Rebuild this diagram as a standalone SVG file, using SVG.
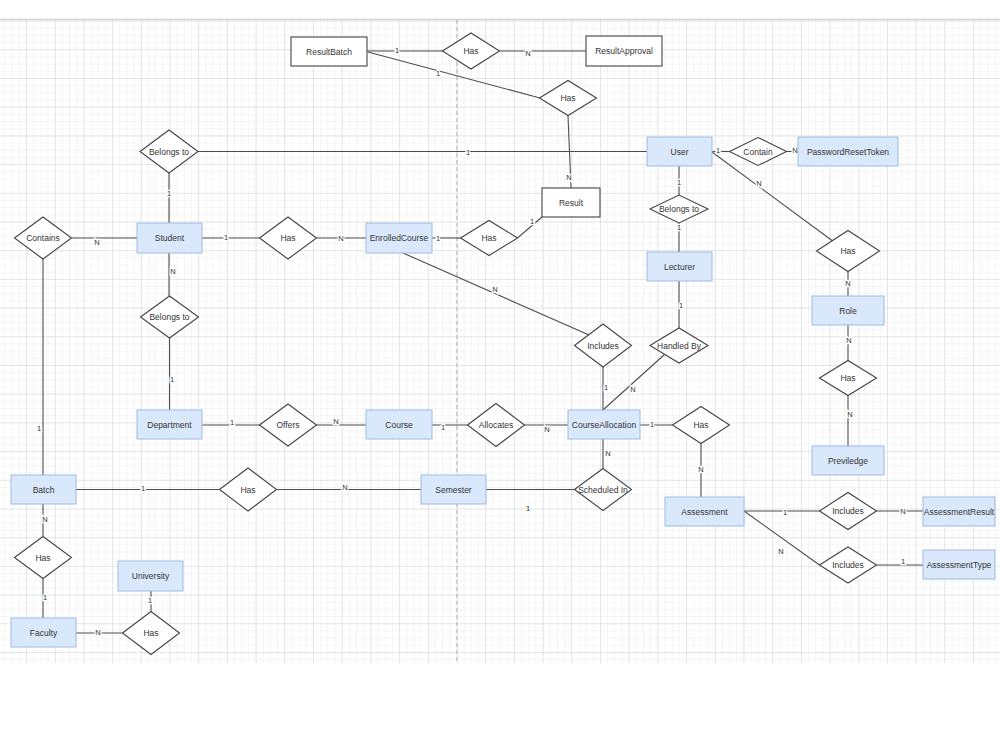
<svg xmlns="http://www.w3.org/2000/svg" width="1000" height="750" viewBox="0 0 1000 750">
<defs>
<pattern id="minor" x="26" y="20.6" width="7.175" height="7.175" patternUnits="userSpaceOnUse">
<path d="M0 0V7.175M0 0H7.175" fill="none" stroke="#ebebeb" stroke-width="1"/>
</pattern>
<pattern id="major" x="26" y="20.6" width="28.7" height="28.7" patternUnits="userSpaceOnUse">
<path d="M0 0V28.7M0 0H28.7" fill="none" stroke="#d6d6d6" stroke-width="1"/>
</pattern>
<style>
.ent{fill:#dae8fc;stroke:#9fbbe3;stroke-width:1}
.wht{fill:#fff;stroke:#444;stroke-width:1.1}
.rel{fill:#fff;stroke:#444;stroke-width:1.1}
.t{font-family:"Liberation Sans",Arial,sans-serif;font-size:8.5px;fill:#333;text-anchor:middle;dominant-baseline:central}
.c{fill:none;stroke:#4d4d4d;stroke-width:1.1}
.lb{font-family:"Liberation Sans",Arial,sans-serif;font-size:7.5px;fill:#333;text-anchor:middle;dominant-baseline:central;paint-order:stroke;stroke:#fff;stroke-width:2.5}
.lf{font-family:"Liberation Sans",Arial,sans-serif;font-size:7.5px;fill:#333;text-anchor:middle;dominant-baseline:central}
</style>
</defs>
<rect x="0" y="0" width="1000" height="750" fill="#fff"/>
<g id="grid">
<rect x="0" y="20" width="1000" height="643" fill="url(#minor)"/>
<rect x="0" y="20" width="1000" height="643" fill="url(#major)"/>
<line x1="0" y1="19.5" x2="1000" y2="19.5" stroke="#d4d4d4" stroke-width="1.5"/>
<line x1="457" y1="20" x2="457" y2="663" stroke="#b0b0b0" stroke-width="1" stroke-dasharray="4,3"/>
</g>
<g id="connectors">
<path class="c" d="M367 51H443"/>
<path class="c" d="M500 51H586"/>
<path class="c" d="M368 52L540 98"/>
<path class="c" d="M568 115.5L571 188"/>
<path class="c" d="M198 151.5H647"/>
<path class="c" d="M712 151.5H730"/>
<path class="c" d="M786.5 151.5H798"/>
<path class="c" d="M679 166V195"/>
<path class="c" d="M679 223V252"/>
<path class="c" d="M712 152L832 240.5"/>
<path class="c" d="M848 271.5V296"/>
<path class="c" d="M848 325V360.5"/>
<path class="c" d="M848 395.5V446"/>
<path class="c" d="M679 281V328"/>
<path class="c" d="M664.5 354.5L603 410"/>
<path class="c" d="M403 253L589 335"/>
<path class="c" d="M603 367V410"/>
<path class="c" d="M71.5 238H137"/>
<path class="c" d="M202 238H259.5"/>
<path class="c" d="M316.5 238H366"/>
<path class="c" d="M432 238H460.5"/>
<path class="c" d="M517.5 238L542 217"/>
<path class="c" d="M169 173V223"/>
<path class="c" d="M169 253V296"/>
<path class="c" d="M169.5 338V410"/>
<path class="c" d="M202 425H259.5"/>
<path class="c" d="M316.5 425H366"/>
<path class="c" d="M432 425H467.5"/>
<path class="c" d="M524.5 425H568"/>
<path class="c" d="M640 425H672.5"/>
<path class="c" d="M701 443.5V497"/>
<path class="c" d="M603 439V468.5"/>
<path class="c" d="M486 489.5H574.5"/>
<path class="c" d="M43 259V475"/>
<path class="c" d="M76 489.5H219.5"/>
<path class="c" d="M276.5 489.5H421"/>
<path class="c" d="M43 504V536.5"/>
<path class="c" d="M43 578.5V618"/>
<path class="c" d="M76 633H122.5"/>
<path class="c" d="M151 611.5V591"/>
<path class="c" d="M744 511H819.5"/>
<path class="c" d="M876.5 511H923"/>
<path class="c" d="M744 511L819.5 565"/>
<path class="c" d="M876.5 565H923"/>
<text class="lb" x="397" y="50">1</text>
<text class="lb" x="528" y="53">N</text>
<text class="lb" x="438" y="73">1</text>
<text class="lb" x="569" y="177">N</text>
<text class="lb" x="468" y="152">1</text>
<text class="lb" x="718" y="150">1</text>
<text class="lb" x="795" y="150">N</text>
<text class="lb" x="679" y="182">1</text>
<text class="lb" x="679" y="227">1</text>
<text class="lb" x="759" y="183">N</text>
<text class="lb" x="848" y="283">N</text>
<text class="lb" x="849" y="340">N</text>
<text class="lb" x="850" y="414">N</text>
<text class="lb" x="681" y="305">1</text>
<text class="lb" x="633" y="389">N</text>
<text class="lb" x="495" y="289">N</text>
<text class="lb" x="606" y="387">1</text>
<text class="lb" x="97" y="242">N</text>
<text class="lb" x="226" y="237">1</text>
<text class="lb" x="341" y="238">N</text>
<text class="lb" x="438" y="238">1</text>
<text class="lb" x="532" y="221">1</text>
<text class="lb" x="169" y="193">1</text>
<text class="lb" x="173" y="271">N</text>
<text class="lb" x="172" y="379">1</text>
<text class="lb" x="232" y="422">1</text>
<text class="lb" x="336" y="421">N</text>
<text class="lb" x="443" y="427">1</text>
<text class="lb" x="547" y="429">N</text>
<text class="lb" x="652" y="424">1</text>
<text class="lb" x="701" y="469">N</text>
<text class="lb" x="608" y="453">N</text>
<text class="lf" x="528" y="508">1</text>
<text class="lb" x="39" y="428">1</text>
<text class="lb" x="143" y="488">1</text>
<text class="lb" x="345" y="487">N</text>
<text class="lb" x="45" y="519">N</text>
<text class="lb" x="45" y="597">1</text>
<text class="lb" x="98" y="632">N</text>
<text class="lb" x="150" y="600">1</text>
<text class="lb" x="785" y="512">1</text>
<text class="lb" x="903" y="511">N</text>
<text class="lf" x="781" y="551">N</text>
<text class="lb" x="903" y="561">1</text>
</g>
<g id="ResultBatch"><rect class="wht" x="291" y="37" width="76" height="29"/><text class="t" x="329" y="51.5">ResultBatch</text></g>
<g id="ResultApproval"><rect class="wht" x="586" y="36" width="76" height="30"/><text class="t" x="624" y="51">ResultApproval</text></g>
<g id="Result"><rect class="wht" x="542" y="188" width="58" height="29"/><text class="t" x="571" y="202.5">Result</text></g>
<g id="User"><rect class="ent" x="647" y="137" width="65" height="29"/><text class="t" x="679.5" y="151.5">User</text></g>
<g id="PasswordResetToken"><rect class="ent" x="798" y="137" width="100" height="29"/><text class="t" x="848" y="151.5">PasswordResetToken</text></g>
<g id="Lecturer"><rect class="ent" x="647" y="252" width="65" height="29"/><text class="t" x="679.5" y="266.5">Lecturer</text></g>
<g id="Role"><rect class="ent" x="812" y="296" width="72" height="29"/><text class="t" x="848" y="310.5">Role</text></g>
<g id="Previledge"><rect class="ent" x="812" y="446" width="72" height="29"/><text class="t" x="848" y="460.5">Previledge</text></g>
<g id="Student"><rect class="ent" x="137" y="223" width="65" height="30"/><text class="t" x="169.5" y="238">Student</text></g>
<g id="EnrolledCourse"><rect class="ent" x="366" y="223" width="66" height="30"/><text class="t" x="399" y="238">EnrolledCourse</text></g>
<g id="Department"><rect class="ent" x="137" y="410" width="65" height="29"/><text class="t" x="169.5" y="424.5">Department</text></g>
<g id="Course"><rect class="ent" x="366" y="410" width="66" height="29"/><text class="t" x="399" y="424.5">Course</text></g>
<g id="CourseAllocation"><rect class="ent" x="568" y="410" width="72" height="29"/><text class="t" x="604" y="424.5">CourseAllocation</text></g>
<g id="Semester"><rect class="ent" x="421" y="475" width="65" height="29"/><text class="t" x="453.5" y="489.5">Semester</text></g>
<g id="Assessment"><rect class="ent" x="665" y="497" width="79" height="29"/><text class="t" x="704.5" y="511.5">Assessment</text></g>
<g id="AssessmentResult"><rect class="ent" x="923" y="497" width="72" height="29"/><text class="t" x="959" y="511.5">AssessmentResult</text></g>
<g id="AssessmentType"><rect class="ent" x="923" y="550" width="72" height="29"/><text class="t" x="959" y="564.5">AssessmentType</text></g>
<g id="Batch"><rect class="ent" x="11" y="475" width="65" height="29"/><text class="t" x="43.5" y="489.5">Batch</text></g>
<g id="Faculty"><rect class="ent" x="11" y="618" width="65" height="29"/><text class="t" x="43.5" y="632.5">Faculty</text></g>
<g id="University"><rect class="ent" x="118" y="561" width="65" height="30"/><text class="t" x="150.5" y="576">University</text></g>
<g id="Has_ResultBatch_ResultApproval"><polygon class="rel" points="442.5,51 471,33 499.5,51 471,69"/><text class="t" x="471" y="51">Has</text></g>
<g id="Has_ResultBatch_Result"><polygon class="rel" points="539.5,98 568,80.5 596.5,98 568,115.5"/><text class="t" x="568" y="98">Has</text></g>
<g id="BelongsTo_Student_User"><polygon class="rel" points="140,151.5 169,130 198,151.5 169,173"/><text class="t" x="169" y="151.5">Belongs to</text></g>
<g id="Contain"><polygon class="rel" points="729.5,151.5 758,137.5 786.5,151.5 758,165.5"/><text class="t" x="758" y="151.5">Contain</text></g>
<g id="BelongsTo_Lecturer_User"><polygon class="rel" points="650,209 679,195 708,209 679,223"/><text class="t" x="679" y="209">Belongs to</text></g>
<g id="Has_User_Role"><polygon class="rel" points="816.5,251 848,230.5 879.5,251 848,271.5"/><text class="t" x="848" y="251">Has</text></g>
<g id="Has_Role_Previledge"><polygon class="rel" points="819.5,378 848,360.5 876.5,378 848,395.5"/><text class="t" x="848" y="378">Has</text></g>
<g id="Contains"><polygon class="rel" points="14.5,238 43,217 71.5,238 43,259"/><text class="t" x="43" y="238">Contains</text></g>
<g id="Has_Student_EnrolledCourse"><polygon class="rel" points="259.5,238 288,217 316.5,238 288,259"/><text class="t" x="288" y="238">Has</text></g>
<g id="Has_EnrolledCourse_Result"><polygon class="rel" points="460.5,238 489,220.5 517.5,238 489,255.5"/><text class="t" x="489" y="238">Has</text></g>
<g id="BelongsTo_Student_Department"><polygon class="rel" points="140.5,317 169.5,296 198.5,317 169.5,338"/><text class="t" x="169.5" y="317">Belongs to</text></g>
<g id="Includes_EnrolledCourse"><polygon class="rel" points="574.5,345.5 603,324 631.5,345.5 603,367"/><text class="t" x="603" y="345.5">Includes</text></g>
<g id="HandledBy"><polygon class="rel" points="650,345.5 679,328 708,345.5 679,363"/><text class="t" x="679" y="345.5">Handled By</text></g>
<g id="Offers"><polygon class="rel" points="259.5,425 288,404 316.5,425 288,446"/><text class="t" x="288" y="425">Offers</text></g>
<g id="Allocates"><polygon class="rel" points="467.5,425 496,403.5 524.5,425 496,446.5"/><text class="t" x="496" y="425">Allocates</text></g>
<g id="Has_CourseAllocation_Assessment"><polygon class="rel" points="672.5,425 701,406.5 729.5,425 701,443.5"/><text class="t" x="701" y="425">Has</text></g>
<g id="ScheduledIn"><polygon class="rel" points="574.5,489.5 603,468.5 631.5,489.5 603,510.5"/><text class="t" x="603" y="489.5">Scheduled In</text></g>
<g id="Has_Batch_Semester"><polygon class="rel" points="219.5,489.5 248,468 276.5,489.5 248,511"/><text class="t" x="248" y="489.5">Has</text></g>
<g id="Has_Batch_Faculty"><polygon class="rel" points="14.5,557.5 43,536.5 71.5,557.5 43,578.5"/><text class="t" x="43" y="557.5">Has</text></g>
<g id="Has_Faculty_University"><polygon class="rel" points="122.5,633 151,611.5 179.5,633 151,654.5"/><text class="t" x="151" y="633">Has</text></g>
<g id="Includes_AssessmentResult"><polygon class="rel" points="819.5,511 848,492.5 876.5,511 848,529.5"/><text class="t" x="848" y="511">Includes</text></g>
<g id="Includes_AssessmentType"><polygon class="rel" points="819.5,565 848,547 876.5,565 848,583"/><text class="t" x="848" y="565">Includes</text></g>
</svg>
